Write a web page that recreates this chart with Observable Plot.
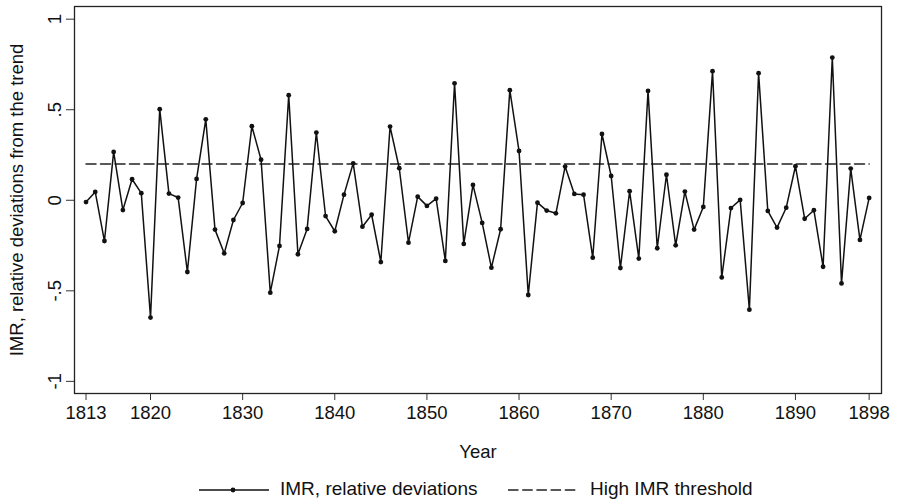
<!DOCTYPE html>
<html>
<head>
<meta charset="utf-8">
<script src="https://cdn.jsdelivr.net/npm/d3@7"></script>
<script src="https://cdn.jsdelivr.net/npm/@observablehq/plot@0.6"></script>
<style>
  html, body { margin: 0; padding: 0; background: #fff; }
  body { font-family: "Liberation Sans", Arial, sans-serif; width: 901px; }
  #legend { position: relative; width: 901px; height: 26px; font-size: 19px; color: #111; }
  #legend .sw { position: absolute; top: 4px; }
  #legend .lb { position: absolute; top: 1px; line-height: 24px; white-space: nowrap; }
</style>
</head>
<body>
<div id="chart"></div>
<div id="legend">
  <svg class="sw" style="left:197px" width="74" height="20">
    <line x1="2" y1="10" x2="72" y2="10" stroke="#111" stroke-width="1.5"></line>
    <circle cx="36" cy="10" r="2.4" fill="#111"></circle>
  </svg>
  <span class="lb" style="left:280px">IMR, relative deviations</span>
  <svg class="sw" style="left:506px" width="74" height="20">
    <line x1="2" y1="10" x2="72" y2="10" stroke="#222" stroke-width="1.5" stroke-dasharray="10.5,3.7"></line>
  </svg>
  <span class="lb" style="left:590px">High IMR threshold</span>
</div>
<script>
const years = [1813,1814,1815,1816,1817,1818,1819,1820,1821,1822,1823,1824,1825,1826,1827,1828,1829,1830,
  1831,1832,1833,1834,1835,1836,1837,1838,1839,1840,1841,1842,1843,1844,1845,1846,1847,1848,1849,1850,
  1851,1852,1853,1854,1855,1856,1857,1858,1859,1860,1861,1862,1863,1864,1865,1866,1867,1868,1869,1870,
  1871,1872,1873,1874,1875,1876,1877,1878,1879,1880,1881,1882,1883,1884,1885,1886,1887,1888,1889,1890,
  1891,1892,1893,1894,1895,1896,1897,1898];

const imrDeviation = [-0.010,0.046,-0.225,0.267,-0.054,0.116,0.039,-0.648,0.503,0.037,0.015,-0.396,0.118,0.447,-0.162,-0.293,-0.109,-0.015,
  0.409,0.224,-0.510,-0.252,0.580,-0.298,-0.158,0.374,-0.087,-0.171,0.031,0.204,-0.146,-0.080,-0.341,0.407,0.177,-0.234,0.020,-0.031,
  0.009,-0.335,0.646,-0.241,0.085,-0.125,-0.372,-0.160,0.608,0.272,-0.523,-0.013,-0.057,-0.072,0.186,0.035,0.031,-0.317,0.366,0.134,
  -0.374,0.050,-0.322,0.604,-0.265,0.141,-0.249,0.048,-0.162,-0.037,0.713,-0.426,-0.043,0.002,-0.604,0.702,-0.059,-0.151,-0.041,0.188,
  -0.102,-0.055,-0.367,0.788,-0.459,0.175,-0.219,0.013];

const thresholdValue = 0.2;
const thresholdYears = [1813, 1898];

const xTicks = [1813,1820,1830,1840,1850,1860,1870,1880,1890,1898];
const yTicks = [-1,-0.5,0,0.5,1];
const yTickLabels = ["-1","-.5","0",".5","1"];

const series = years.map((year, i) => ({year, value: imrDeviation[i]}));
const thresholdLine = thresholdYears.map(year => ({year, value: thresholdValue}));

const chart = Plot.plot({
  width: 901,
  height: 476,
  marginLeft: 74,
  marginRight: 20,
  marginTop: 6,
  marginBottom: 83,
  style: {fontFamily: '"Liberation Sans", Arial, sans-serif', fontSize: "18.5px", color: "#111", background: "#fff"},
  x: {domain: [1811.75, 1899.34]},
  y: {domain: [-1.067, 1.07]},
  marks: [
    Plot.axisX({ticks: xTicks, tickFormat: d => String(d), tickSize: 7, tickPadding: 5, stroke: "#333",
      label: "Year", labelAnchor: "center", labelOffset: 64, labelArrow: "none"}),
    Plot.axisY({ticks: yTicks, tickFormat: d => yTickLabels[yTicks.indexOf(d)], tickSize: 8, tickPadding: 6, tickRotate: -90, stroke: "#333",
      label: "IMR, relative deviations from the trend", labelAnchor: "center", labelOffset: 65, labelArrow: "none"}),
    Plot.frame({stroke: "#222", strokeWidth: 1.3}),
    Plot.line(thresholdLine, {x: "year", y: "value", stroke: "#222", strokeWidth: 1.5, strokeDasharray: "10,4.5"}),
    Plot.line(series, {x: "year", y: "value", stroke: "#111", strokeWidth: 1.5}),
    Plot.dot(series, {x: "year", y: "value", r: 2.4, fill: "#111", stroke: "none"})
  ]
});
document.getElementById("chart").appendChild(chart);
</script>
</body>
</html>
